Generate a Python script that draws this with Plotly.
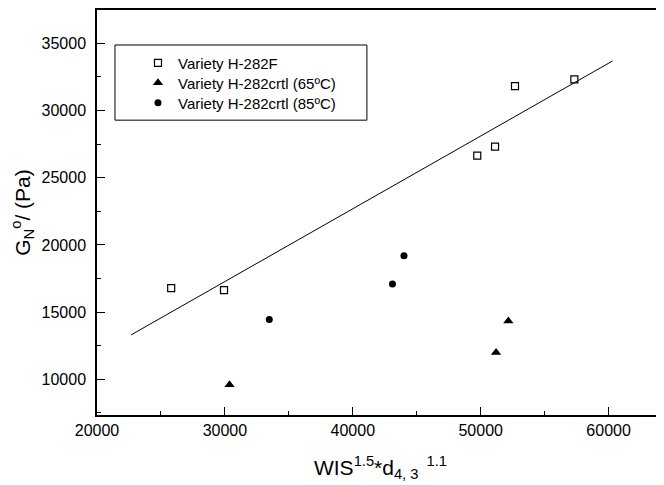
import plotly.graph_objects as go

# Data
h282f_x = [25800, 29930, 49730, 51120, 52680, 57320]
h282f_y = [16790, 16640, 26640, 27310, 31820, 32320]

crtl65_x = [30360, 51200, 52160]
crtl65_y = [9600, 12000, 14330]

crtl85_x = [33470, 43100, 44000]
crtl85_y = [14450, 17100, 19200]

fit_x = [22660, 60300]
fit_y = [13300, 33680]

x_ticks = [20000, 30000, 40000, 50000, 60000]
y_ticks = [10000, 15000, 20000, 25000, 30000, 35000]

FONT = "Liberation Sans, Arial, sans-serif"

fig = go.Figure()
fig.add_trace(go.Scatter(x=fit_x, y=fit_y, mode="lines", line=dict(color="black", width=1),
                         showlegend=False, hoverinfo="skip"))
fig.add_trace(go.Scatter(x=h282f_x, y=h282f_y, mode="markers", name="Variety H-282F", legend="legend",
                         marker=dict(symbol="square-open", size=7, color="black", line=dict(width=1.2))))
fig.add_trace(go.Scatter(x=crtl65_x, y=crtl65_y, mode="markers", name="Variety H-282crtl (65ºC)", legend="legend2",
                         marker=dict(symbol="triangle-up", size=9, color="black")))
fig.add_trace(go.Scatter(x=crtl85_x, y=crtl85_y, mode="markers", name="Variety H-282crtl (85ºC)", legend="legend3",
                         marker=dict(symbol="circle", size=7, color="black")))

# legend frame
fig.add_shape(type="rect", xref="paper", yref="paper", x0=0.0317, x1=0.476, y0=0.728, y1=0.9136,
              line=dict(color="black", width=1), fillcolor="rgba(0,0,0,0)")

leg_common = dict(x=0.0723, xanchor="left", yanchor="middle", bgcolor="rgba(0,0,0,0)",
                  borderwidth=0, font=dict(size=15, family=FONT))

# page body has an 8px margin, so the figure is shrunk by 8px and margins compensated
fig.update_layout(
    width=656, height=477,
    margin=dict(l=89, r=0, t=2, b=70),
    paper_bgcolor="white", plot_bgcolor="white",
    font=dict(family=FONT, color="black"),
    showlegend=True,
    legend=dict(y=0.869, **leg_common),
    legend2=dict(y=0.8198, **leg_common),
    legend3=dict(y=0.7704, **leg_common),
)
fig.update_xaxes(
    range=[20000, 64330], tickvals=x_ticks, ticktext=[str(v) for v in x_ticks],
    showgrid=False, zeroline=False, showline=True, linecolor="black", linewidth=1.5, mirror=True,
    ticks="inside", ticklen=8, tickwidth=1.2, tickcolor="black",
    minor=dict(dtick=5000, tick0=0, ticks="inside", ticklen=4, tickwidth=1.2, tickcolor="black"),
    tickfont=dict(size=16, family=FONT), automargin=False,
    title=dict(text="WIS<sup>1.5</sup>*d<sub>4, 3</sub><sup>  1.1</sup>", font=dict(size=21, family=FONT), standoff=22),
)
fig.update_yaxes(
    range=[7344, 37478], tickvals=y_ticks, ticktext=[str(v) for v in y_ticks],
    showgrid=False, zeroline=False, showline=True, linecolor="black", linewidth=1.5, mirror=False,
    ticks="inside", ticklen=8, tickwidth=1.2, tickcolor="black",
    minor=dict(dtick=2500, tick0=0, ticks="inside", ticklen=4, tickwidth=1.2, tickcolor="black"),
    tickfont=dict(size=16, family=FONT), ticklabelstandoff=6, automargin=False,
    title=dict(text="G<sub>N</sub><sup>o</sup>/ (Pa)", font=dict(size=21, family=FONT), standoff=13),
)

fig.write_html("out.html")
